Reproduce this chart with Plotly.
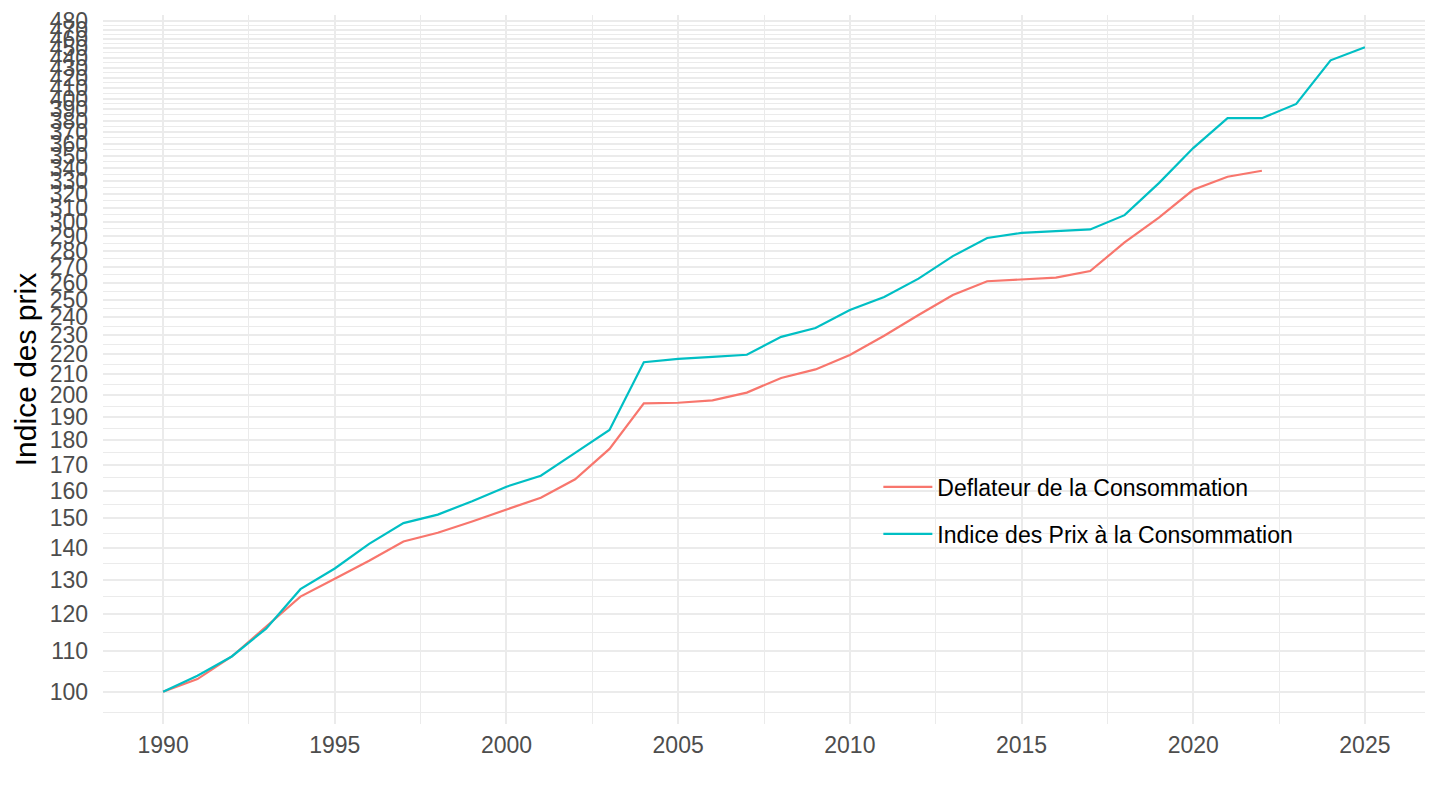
import numpy as np
import plotly.graph_objects as go

years_ipc = list(range(1990, 2026))
ipc = [100.0, 103.8, 108.6, 115.9, 127.1, 133.4, 141.3, 148.3, 151.3, 156.1,
       161.5, 165.7, 174.8, 184.4, 216.0, 217.7, 218.7, 219.8, 229.2, 234.0,
       244.0, 251.6, 262.6, 276.8, 288.8, 292.2, 293.4, 294.6, 304.6, 328.3,
       356.3, 382.1, 382.1, 395.0, 437.4, 451.0]

years_defl = list(range(1990, 2023))
defl = [100.0, 103.0, 108.6, 116.5, 124.9, 130.2, 135.8, 142.1, 145.0, 148.9,
        153.0, 157.4, 164.3, 176.4, 196.2, 196.5, 197.6, 201.2, 208.2, 212.4,
        219.7, 229.8, 241.2, 252.7, 261.0, 262.0, 263.2, 267.3, 285.8, 302.9,
        323.2, 333.2, 337.9]

series_names = ["Deflateur de la Consommation", "Indice des Prix à la Consommation"]
series_colors = ["#F8766D", "#00BFC4"]

y_ticks = list(range(100, 490, 10))
x_ticks = list(range(1990, 2030, 5))
y_title = "Indice des prix"

FONT = "Liberation Sans, Arial, sans-serif"
GRID = "#EBEBEB"

# ggplot-like minor breaks (midpoints in log space)
ly = np.log10(y_ticks)
step = ly[1] - ly[0]
minor_y = [10 ** ((a + b) / 2) for a, b in zip(ly[:-1], ly[1:])]
minor_y = [10 ** (ly[0] - step / 2)] + minor_y
minor_x = [x + 2.5 for x in range(1985, 2030, 5)]

ymin, ymax = np.log10(min(ipc + defl)), np.log10(max(ipc + defl))
ypad = (ymax - ymin) * 0.05
xmin, xmax = 1990, 2025
xpad = (xmax - xmin) * 0.05

fig = go.Figure()
fig.add_trace(go.Scatter(x=years_defl, y=defl, mode="lines", name=series_names[0],
                         line=dict(color=series_colors[0], width=2.2), legendgroup="a"))
fig.add_trace(go.Scatter(x=years_ipc, y=ipc, mode="lines", name=series_names[1],
                         line=dict(color=series_colors[1], width=2.2), legendgroup="b"))

fig.update_layout(
    width=1440, height=810,
    paper_bgcolor="white", plot_bgcolor="white",
    margin=dict(l=103, r=15, t=14.5, b=86, autoexpand=False),
    font=dict(family=FONT, size=23, color="#4D4D4D"),
    showlegend=True,
    legend=dict(x=0.5865, y=0.3646, xanchor="left", yanchor="top",
                font=dict(family=FONT, size=23, color="black"),
                bgcolor="rgba(0,0,0,0)", tracegroupgap=14, itemwidth=49),
)
fig.update_xaxes(
    range=[xmin - xpad, xmax + xpad], tickmode="array", tickvals=x_ticks,
    showgrid=True, gridcolor=GRID, gridwidth=2, zeroline=False, showline=False,
    ticks="", ticklabelstandoff=5,
    tickfont=dict(family=FONT, size=23, color="#4D4D4D"),
    minor=dict(tickvals=minor_x, showgrid=True, gridcolor=GRID, gridwidth=1),
)
fig.update_yaxes(
    type="log", range=[ymin - ypad, ymax + ypad], tickmode="array",
    tickvals=y_ticks, ticktext=[str(v) for v in y_ticks],
    showgrid=True, gridcolor=GRID, gridwidth=2, zeroline=False, showline=False,
    ticks="", ticklabelstandoff=14,
    tickfont=dict(family=FONT, size=23, color="#4D4D4D"),
    minor=dict(tickvals=minor_y, showgrid=True, gridcolor=GRID, gridwidth=1),
    title=dict(text=y_title, font=dict(family=FONT, size=30, color="black"), standoff=4),
)

fig.write_html("out.html", config={"displayModeBar": False},
               post_script="document.body.style.margin='0';")
